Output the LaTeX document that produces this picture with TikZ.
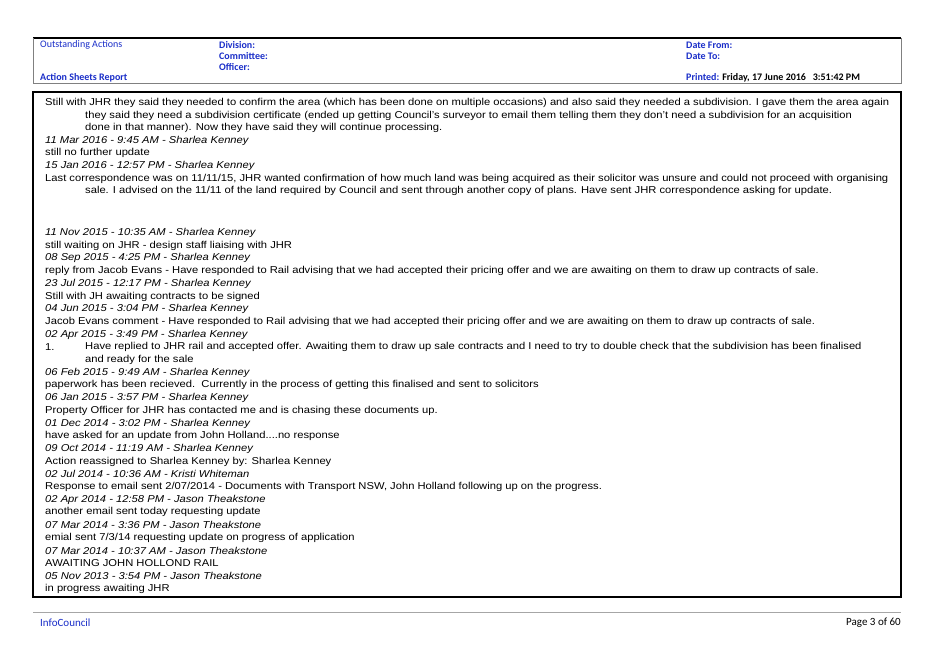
\documentclass[tikz,border=0pt]{standalone}
\usepackage{fontspec}
\setmainfont{Liberation Sans}[FakeStretch=1.12]
\newfontfamily\hdrfont{Carlito}
\usetikzlibrary{positioning}
\definecolor{hdrblue}{RGB}{25,45,200}
\tikzset{
  hdr/.style={font=\hdrfont\fontsize{10}{11}\selectfont\bfseries, text=hdrblue, anchor=west, inner sep=0pt},
  body/.style={font=\fontsize{10}{11}\selectfont, anchor=west, inner sep=0pt},
  stamp/.style={body, font=\fontsize{10}{11}\selectfont\itshape},
}
\begin{document}
\begin{tikzpicture}[x=1pt, y=-1pt]
				\useasboundingbox (0,0) rectangle (939,664);
				% header block
				\draw[line width=1.2pt] (33,38) -- (901,38);
				\draw[gray, line width=0.8pt] (33,38) -- (33,83) -- (901,83) -- (901,38);
				\node[hdr, font=\hdrfont\fontsize{10}{11}\selectfont] (outst) at (40,45) {Outstanding Actions};
				\node[hdr] (division) at (219,45) {Division:};
				\node[hdr] (committee) at (219,56) {Committee:};
				\node[hdr] (officer) at (219,67) {Officer:};
				\node[hdr] (report) at (40,78) {Action Sheets Report};
				\node[hdr] (datefrom) at (686,45) {Date From:};
				\node[hdr] (dateto) at (686,56) {Date To:};
				\node[hdr] (printed) at (686,78) {Printed: \textcolor{black}{Friday, 17 June 2016\ \ \ 3:51:42 PM}};
				
				% notes box
				\draw[line width=1.2pt] (33,92) rectangle (901,597);
				\node[body] (n1) at (45,103) {Still with JHR they said they needed to confirm the area (which has been done on multiple occasions) and also said they needed a subdivision. I gave them the area again};
				\node[body] (n2) at (85,115.6) {they said they need a subdivision certificate (ended up getting Council's surveyor to email them telling them they don't need a subdivision for an acquisition};
				\node[body] (n3) at (85,128.2) {done in that manner). Now they have said they will continue processing.};
				\node[stamp] (n4) at (45,140.8) {11 Mar 2016 - 9:45 AM - Sharlea Kenney};
				\node[body] (n5) at (45,153.4) {still no further update};
				\node[stamp] (n6) at (45,166) {15 Jan 2016 - 12:57 PM - Sharlea Kenney};
				\node[body] (n7) at (45,178.6) {Last correspondence was on 11/11/15, JHR wanted confirmation of how much land was being acquired as their solicitor was unsure and could not proceed with organising};
				\node[body] (n8) at (85,191.2) {sale. I advised on the 11/11 of the land required by Council and sent through another copy of plans. Have sent JHR correspondence asking for update.};
				
				\node[stamp] (m1) at (45,233) {11 Nov 2015 - 10:35 AM - Sharlea Kenney};
				\node[body] (m2) at (45,245.7) {still waiting on JHR - design staff liaising with JHR};
				\node[stamp] (m3) at (45,258.4) {08 Sep 2015 - 4:25 PM - Sharlea Kenney};
				\node[body] (m4) at (45,271.1) {reply from Jacob Evans - Have responded to Rail advising that we had accepted their pricing offer and we are awaiting on them to draw up contracts of sale.};
				\node[stamp] (m5) at (45,283.8) {23 Jul 2015 - 12:17 PM - Sharlea Kenney};
				\node[body] (m6) at (45,296.5) {Still with JH awaiting contracts to be signed};
				\node[stamp] (m7) at (45,309.2) {04 Jun 2015 - 3:04 PM - Sharlea Kenney};
				\node[body] (m8) at (45,321.9) {Jacob Evans comment - Have responded to Rail advising that we had accepted their pricing offer and we are awaiting on them to draw up contracts of sale.};
				\node[stamp] (m9) at (45,334.6) {02 Apr 2015 - 3:49 PM - Sharlea Kenney};
				\node[body] (m10a) at (45,347.3) {1.};
				\node[body] (m10) at (85,347.3) {Have replied to JHR rail and accepted offer. Awaiting them to draw up sale contracts and I need to try to double check that the subdivision has been finalised};
				\node[body] (m11) at (85,360) {and ready for the sale};
				\node[stamp] (m12) at (45,372.7) {06 Feb 2015 - 9:49 AM - Sharlea Kenney};
				\node[body] (m13) at (45,385.4) {paperwork has been recieved.\ \ Currently in the process of getting this finalised and sent to solicitors};
				\node[stamp] (m14) at (45,398.1) {06 Jan 2015 - 3:57 PM - Sharlea Kenney};
				\node[body] (m15) at (45,410.8) {Property Officer for JHR has contacted me and is chasing these documents up.};
				\node[stamp] (m16) at (45,423.5) {01 Dec 2014 - 3:02 PM - Sharlea Kenney};
				\node[body] (m17) at (45,436.2) {have asked for an update from John Holland....no response};
				\node[stamp] (m18) at (45,448.9) {09 Oct 2014 - 11:19 AM - Sharlea Kenney};
				\node[body] (m19) at (45,461.6) {Action reassigned to Sharlea Kenney by: Sharlea Kenney};
				\node[stamp] (m20) at (45,474.3) {02 Jul 2014 - 10:36 AM - Kristi Whiteman};
				\node[body] (m21) at (45,487) {Response to email sent 2/07/2014 - Documents with Transport NSW, John Holland following up on the progress.};
				\node[stamp] (m22) at (45,499.7) {02 Apr 2014 - 12:58 PM - Jason Theakstone};
				\node[body] (m23) at (45,512.4) {another email sent today requesting update};
				\node[stamp] (m24) at (45,525.1) {07 Mar 2014 - 3:36 PM - Jason Theakstone};
				\node[body] (m25) at (45,537.8) {emial sent 7/3/14 requesting update on progress of application};
				\node[stamp] (m26) at (45,550.5) {07 Mar 2014 - 10:37 AM - Jason Theakstone};
				\node[body] (m27) at (45,563.2) {AWAITING JOHN HOLLOND RAIL};
				\node[stamp] (m28) at (45,575.9) {05 Nov 2013 - 3:54 PM - Jason Theakstone};
				\node[body] (m29) at (45,588.6) {in progress awaiting JHR};
				
				% footer
				\draw[gray!70, line width=0.8pt] (33,612) -- (901,612);
				\node[hdr, font=\hdrfont\fontsize{11}{12}\selectfont] (infocouncil) at (40,623) {InfoCouncil};
				\node[hdr, anchor=east, text=black, font=\hdrfont\fontsize{11}{12}\selectfont] (page) at (901,623) {Page 3 of 60};
			\end{tikzpicture}
\end{document}
